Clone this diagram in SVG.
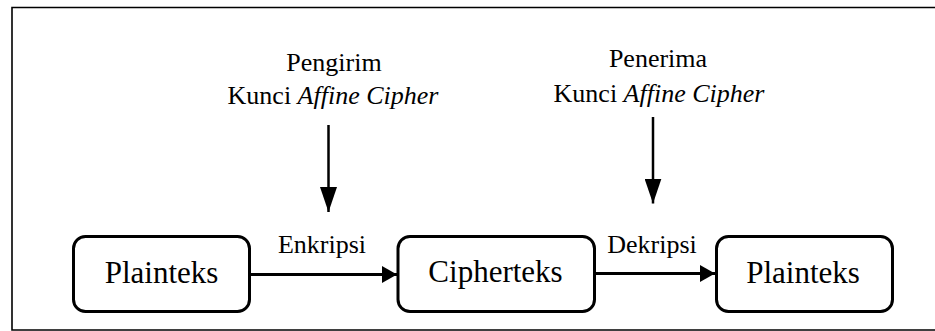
<svg xmlns="http://www.w3.org/2000/svg" width="935" height="331" viewBox="0 0 935 331" font-family="'Liberation Serif', 'DejaVu Serif', serif">
<style>
  text { font-family: 'Liberation Serif', 'DejaVu Serif', serif; fill: #000; }
  .lbl { font-size: 26px; }
  .box-t { font-size: 31px; text-anchor: middle; }
  .node rect { fill: #fff; stroke: #000; stroke-width: 3; }
  .conn { stroke: #000; fill: none; }
</style>
<defs>
  <marker id="ah" viewBox="0 0 15 17" refX="15" refY="8.5" markerWidth="15" markerHeight="17" markerUnits="userSpaceOnUse" orient="auto">
    <path d="M0,0 L15,8.5 L0,17 Z" fill="#000"/>
  </marker>
  <marker id="av" viewBox="0 0 25 17" refX="25" refY="8.5" markerWidth="25" markerHeight="17" markerUnits="userSpaceOnUse" orient="auto">
    <path d="M0,0 L25,8.5 L0,17 Z" fill="#000"/>
  </marker>
</defs>
<rect width="935" height="331" fill="#fff"/>
<path d="M940,7.5 H12 V330 H940" fill="none" stroke="#000" stroke-width="1.6"/>

<g id="label-pengirim">
  <text class="lbl" x="334" y="71" text-anchor="middle" font-family="Liberation Serif, serif">Pengirim</text>
  <text class="lbl" x="333" y="104" text-anchor="middle" font-family="Liberation Serif, serif">Kunci <tspan font-style="italic">Affine Cipher</tspan></text>
</g>
<g id="label-penerima">
  <text class="lbl" x="658" y="67" text-anchor="middle" font-family="Liberation Serif, serif">Penerima</text>
  <text class="lbl" x="659" y="102" text-anchor="middle" font-family="Liberation Serif, serif">Kunci <tspan font-style="italic">Affine Cipher</tspan></text>
</g>

<g id="node-plainteks1" class="node">
  <rect x="73.5" y="236.5" width="176" height="75" rx="12"/>
  <text class="box-t" x="161.5" y="283" font-family="Liberation Serif, serif">Plainteks</text>
</g>
<g id="node-cipherteks" class="node">
  <rect x="398" y="236.5" width="196.5" height="75" rx="12"/>
  <text class="box-t" x="495.5" y="282" font-family="Liberation Serif, serif">Cipherteks</text>
</g>
<g id="node-plainteks2" class="node">
  <rect x="716.5" y="236.5" width="176" height="75" rx="12"/>
  <text class="box-t" x="803" y="283" font-family="Liberation Serif, serif">Plainteks</text>
</g>

<g id="connectors">
  <line class="conn" x1="328.5" y1="125" x2="328.5" y2="212" stroke-width="2.5" marker-end="url(#av)"/>
  <line class="conn" x1="653" y1="117" x2="653" y2="203.5" stroke-width="2.5" marker-end="url(#av)"/>
  <line class="conn" x1="251" y1="274.5" x2="397" y2="274.5" stroke-width="3" marker-end="url(#ah)"/>
  <line class="conn" x1="596" y1="273.5" x2="715" y2="273.5" stroke-width="3" marker-end="url(#ah)"/>
  <text class="lbl" x="322" y="253" text-anchor="middle" font-family="Liberation Serif, serif">Enkripsi</text>
  <text class="lbl" x="652" y="253" text-anchor="middle" font-family="Liberation Serif, serif">Dekripsi</text>
</g>
</svg>
